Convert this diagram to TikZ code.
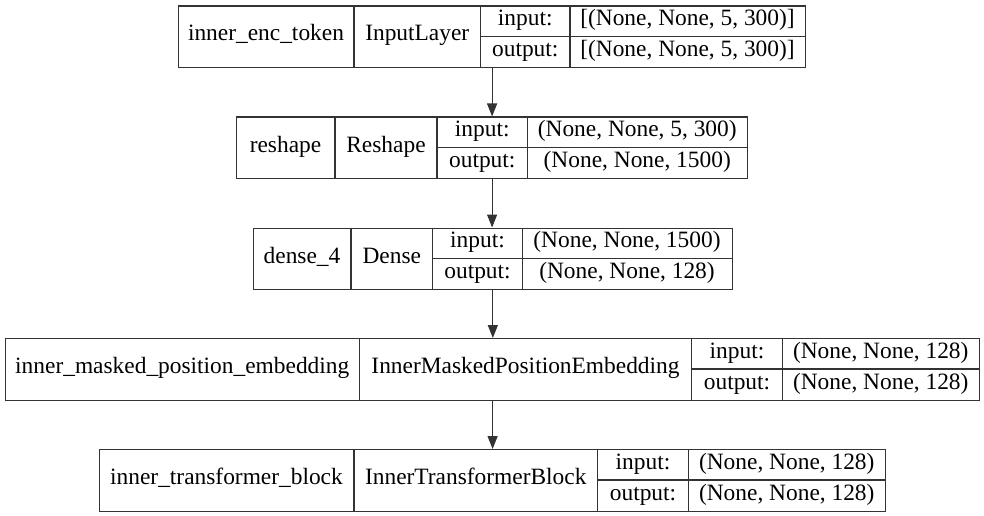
\documentclass[tikz,border=0pt]{standalone}
\usepackage{fontspec}
\setmainfont{Liberation Serif}
\usetikzlibrary{arrows.meta}
\definecolor{edgegray}{HTML}{333333}
\begin{document}
\begin{tikzpicture}[x=1pt,y=-1pt,
  layerbox/.style={draw=edgegray, line width=1.2pt, rectangle, inner sep=0pt, anchor=north west, minimum height=61.5pt},
  divider/.style={draw=edgegray, line width=1.2pt},
  lbl/.style={font=\rmfamily\fontsize{23.4}{28}\selectfont, inner sep=0pt, anchor=base},
  flow/.style={draw=edgegray, line width=1.2pt, -{Triangle[length=13pt,width=10pt]}}]
\useasboundingbox (0,0) rectangle (984,516);

% box 1
\node[layerbox, minimum width=627pt] (b1) at (178,5.5) {};
\draw[divider] (354,5.5) -- (354,67) (480.5,5.5) -- (480.5,67) (570,5.5) -- (570,67) (480.5,36.5) -- (805,36.5);
\node[lbl] (b1n) at (266,41) {inner\_enc\_token};
\node[lbl] (b1t) at (417.25,41) {InputLayer};
\node[lbl] (b1il) at (525.25,25.7) {input:};
\node[lbl] (b1ol) at (525.25,56.5) {output:};
\node[lbl] (b1iv) at (687.5,25.7) {[(None, None, 5, 300)]};
\node[lbl] (b1ov) at (687.5,56.5) {[(None, None, 5, 300)]};

% box 2
\node[layerbox, minimum width=511pt] (b2) at (236,116.5) {};
\draw[divider] (335,116.5) -- (335,178) (437,116.5) -- (437,178) (527.5,116.5) -- (527.5,178) (437,147.5) -- (747,147.5);
\node[lbl] (b2n) at (285.5,152) {reshape};
\node[lbl] (b2t) at (386,152) {Reshape};
\node[lbl] (b2il) at (482.25,136.7) {input:};
\node[lbl] (b2ol) at (482.25,167.5) {output:};
\node[lbl] (b2iv) at (637.25,136.7) {(None, None, 5, 300)};
\node[lbl] (b2ov) at (637.25,167.5) {(None, None, 1500)};

% box 3
\node[layerbox, minimum width=478.5pt] (b3) at (253,227.5) {};
\draw[divider] (351,227.5) -- (351,289) (432.5,227.5) -- (432.5,289) (522.5,227.5) -- (522.5,289) (432.5,258.5) -- (731.5,258.5);
\node[lbl] (b3n) at (302,263) {dense\_4};
\node[lbl] (b3t) at (391.75,263) {Dense};
\node[lbl] (b3il) at (477.5,247.7) {input:};
\node[lbl] (b3ol) at (477.5,278.5) {output:};
\node[lbl] (b3iv) at (627,247.7) {(None, None, 1500)};
\node[lbl] (b3ov) at (627,278.5) {(None, None, 128)};

% box 4
\node[layerbox, minimum width=974pt] (b4) at (5,338) {};
\draw[divider] (359.5,338) -- (359.5,399.5) (691.5,338) -- (691.5,399.5) (782.5,338) -- (782.5,399.5) (691.5,369) -- (979,369);
\node[lbl] (b4n) at (182.25,373.5) {inner\_masked\_position\_embedding};
\node[lbl] (b4t) at (525.5,373.5) {InnerMaskedPositionEmbedding};
\node[lbl] (b4il) at (737,358.2) {input:};
\node[lbl] (b4ol) at (737,389) {output:};
\node[lbl] (b4iv) at (880.75,358.2) {(None, None, 128)};
\node[lbl] (b4ov) at (880.75,389) {(None, None, 128)};

% box 5
\node[layerbox, minimum width=786pt] (b5) at (99,449) {};
\draw[divider] (354,449) -- (354,510.5) (597.5,449) -- (597.5,510.5) (688.5,449) -- (688.5,510.5) (597.5,480) -- (885,480);
\node[lbl] (b5n) at (226.5,484.5) {inner\_transformer\_block};
\node[lbl] (b5t) at (475.75,484.5) {InnerTransformerBlock};
\node[lbl] (b5il) at (643,469.2) {input:};
\node[lbl] (b5ol) at (643,500) {output:};
\node[lbl] (b5iv) at (786.75,469.2) {(None, None, 128)};
\node[lbl] (b5ov) at (786.75,500) {(None, None, 128)};

% connectors
\draw[flow] (b1.south) -- (b1.south |- b2.north);
\draw[flow] (b2.south) -- (b2.south |- b3.north);
\draw[flow] (b3.south) -- (b3.south |- b4.north);
\draw[flow] (b4.south) -- (b4.south |- b5.north);
\end{tikzpicture}
\end{document}
